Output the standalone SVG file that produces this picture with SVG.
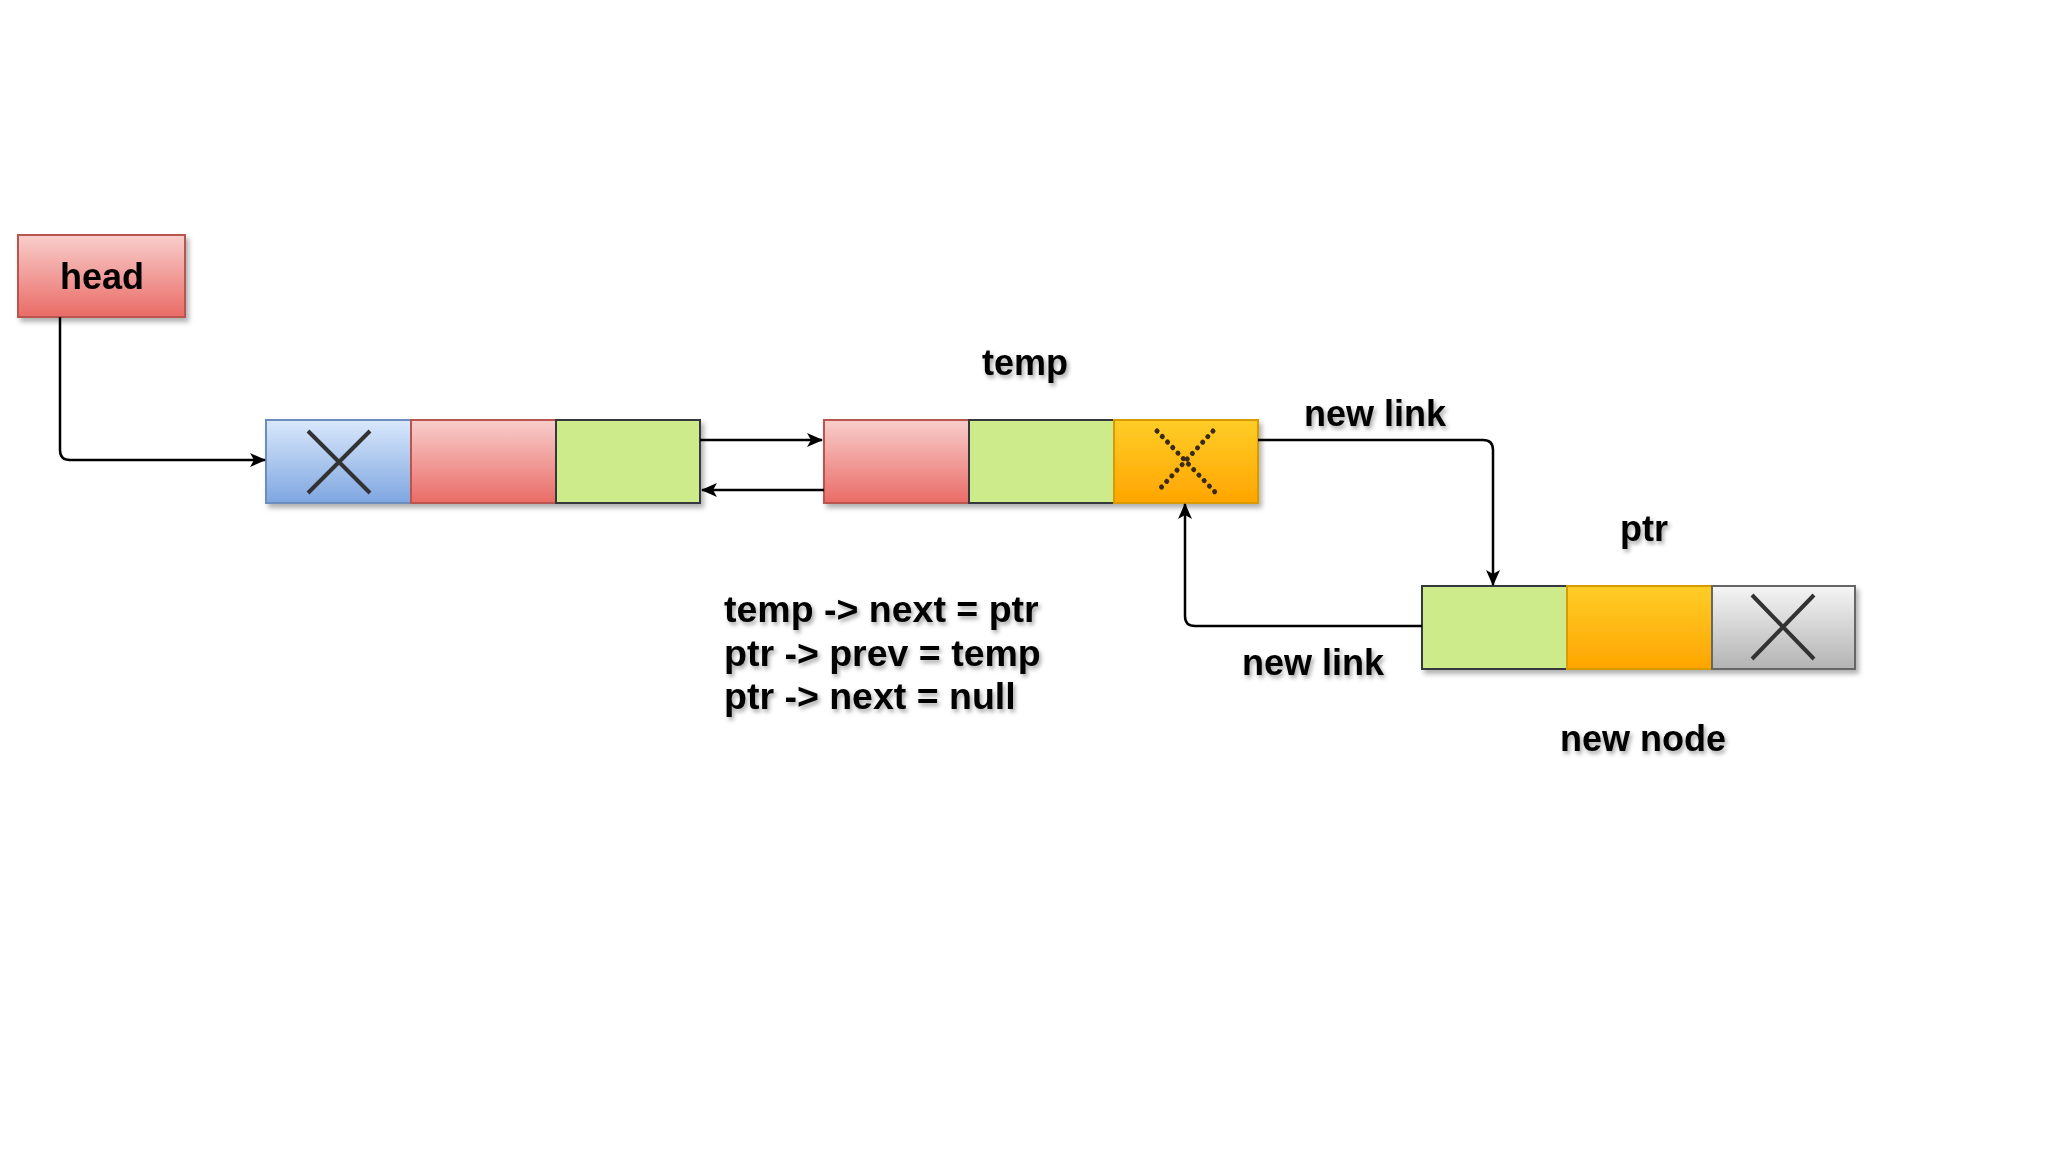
<svg xmlns="http://www.w3.org/2000/svg" width="2048" height="1152" viewBox="0 0 2048 1152">
<defs>
<linearGradient id="gRed" x1="0" y1="0" x2="0" y2="1"><stop offset="0" stop-color="#f8cecc"/><stop offset="1" stop-color="#ea6b66"/></linearGradient>
<linearGradient id="gBlue" x1="0" y1="0" x2="0" y2="1"><stop offset="0" stop-color="#dae8fc"/><stop offset="1" stop-color="#7ea6e0"/></linearGradient>
<linearGradient id="gOrange" x1="0" y1="0" x2="0" y2="1"><stop offset="0" stop-color="#ffcd28"/><stop offset="1" stop-color="#ffa500"/></linearGradient>
<linearGradient id="gGray" x1="0" y1="0" x2="0" y2="1"><stop offset="0" stop-color="#f5f5f5"/><stop offset="1" stop-color="#b3b3b3"/></linearGradient>
<filter id="sh" x="-20%" y="-20%" width="140%" height="150%"><feDropShadow dx="3" dy="4" stdDeviation="2.5" flood-color="#000" flood-opacity="0.3"/></filter>
<filter id="tsh" x="-10%" y="-20%" width="120%" height="150%"><feDropShadow dx="2" dy="3" stdDeviation="2" flood-color="#000" flood-opacity="0.35"/></filter>
<marker id="arrL" viewBox="0 0 16 14" refX="15" refY="7" markerWidth="16" markerHeight="14" markerUnits="userSpaceOnUse" orient="auto"><path d="M0,0 L16,7 L0,14 L4,7 Z" fill="#000"/></marker>
</defs>
<style>
.lbl{font-family:"Liberation Sans",Arial,sans-serif;font-weight:bold;font-size:36px;fill:#000;}
.code{font-size:37.5px;}
.red{fill:url(#gRed);stroke:#b85450;stroke-width:2;}
.blue{fill:url(#gBlue);stroke:#6c8ebf;stroke-width:2;}
.green{fill:#cdeb8b;stroke:#36393d;stroke-width:2;}
.orange{fill:url(#gOrange);stroke:#d79b00;stroke-width:2;}
.gray{fill:url(#gGray);stroke:#666666;stroke-width:2;}
.x{stroke:#333;stroke-width:4;fill:none;}
.xd{stroke:#3a2a10;stroke-width:5;stroke-dasharray:0.1 7.5;stroke-linecap:round;fill:none;}
.con{fill:none;stroke:#000;stroke-width:2.5;}
</style>
<rect width="2048" height="1152" fill="#fff"/>

<g id="head" filter="url(#sh)">
<rect class="red" x="18" y="235" width="167" height="82"/>
<text class="lbl" x="102" y="289" text-anchor="middle">head</text>
</g>

<g id="node1" filter="url(#sh)">
<rect class="blue" x="266" y="420" width="145" height="83"/>
<rect class="red" x="411" y="420" width="145" height="83"/>
<rect class="green" x="556" y="420" width="144" height="83"/>
<path class="x" d="M308,431 L370,493 M370,431 L308,493"/>
</g>

<g id="node2" filter="url(#sh)">
<rect class="red" x="824" y="420" width="145" height="83"/>
<rect class="green" x="969" y="420" width="145" height="83"/>
<rect class="orange" x="1114" y="420" width="144" height="83"/>
<path class="xd" d="M1157,431 L1215,492 M1213,431 L1157,492"/>
</g>

<g id="node3" filter="url(#sh)">
<rect class="green" x="1422" y="586" width="145" height="83"/>
<rect class="orange" x="1567" y="586" width="145" height="83"/>
<rect class="gray" x="1712" y="586" width="143" height="83"/>
<path class="x" d="M1752,595 L1814,659 M1814,595 L1752,659"/>
</g>

<g id="labels" filter="url(#tsh)">
<text class="lbl" x="1025" y="375" text-anchor="middle">temp</text>
<text class="lbl" x="1375" y="426" text-anchor="middle">new link</text>
<text class="lbl" x="1644" y="541" text-anchor="middle">ptr</text>
<text class="lbl" x="1313" y="675" text-anchor="middle">new link</text>
<text class="lbl" x="1643" y="751" text-anchor="middle">new node</text>
<text class="lbl code" x="724" y="622">temp -&gt; next = ptr</text>
<text class="lbl code" x="724" y="666">ptr -&gt; prev = temp</text>
<text class="lbl code" x="724" y="709">ptr -&gt; next = null</text>
</g>

<g id="connectors">
<path class="con" d="M60,317 L60,450 Q60,460 70,460 L265,460" marker-end="url(#arrL)"/>
<path class="con" d="M700,440 L822,440" marker-end="url(#arrL)"/>
<path class="con" d="M824,490 L702,490" marker-end="url(#arrL)"/>
<path class="con" d="M1258,440 L1483,440 Q1493,440 1493,450 L1493,585" marker-end="url(#arrL)"/>
<path class="con" d="M1422,626 L1195,626 Q1185,626 1185,616 L1185,504" marker-end="url(#arrL)"/>
</g>
</svg>
